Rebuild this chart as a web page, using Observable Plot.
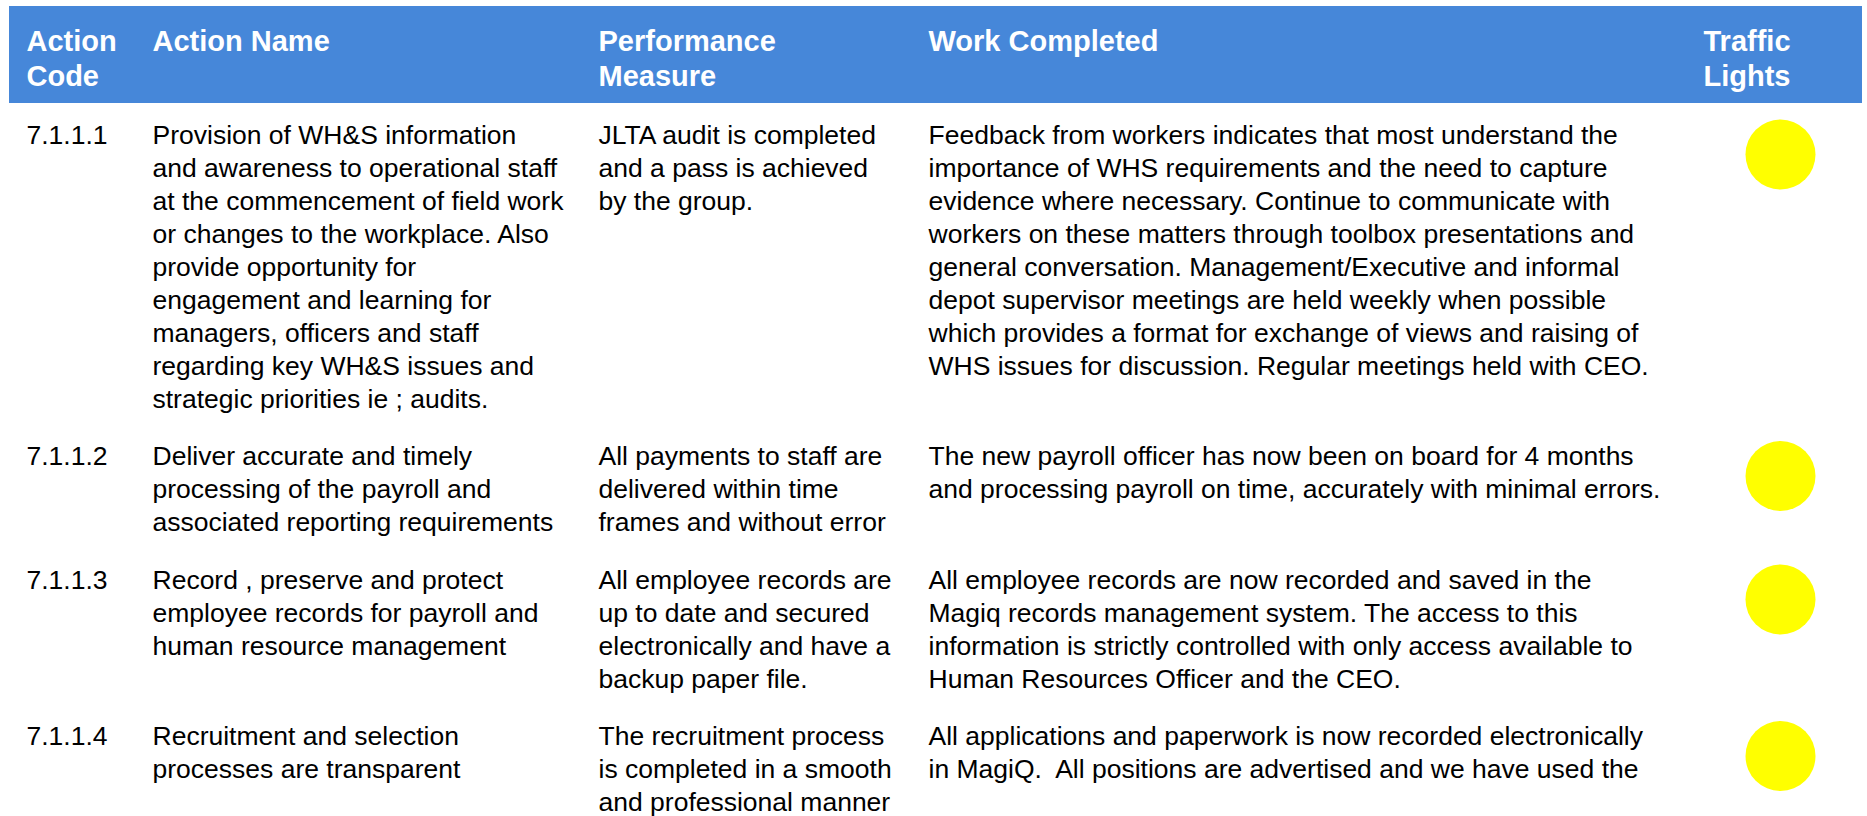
<!DOCTYPE html>
<html>
<head>
<meta charset="utf-8">
<script src="https://cdn.jsdelivr.net/npm/d3@7"></script>
<script src="https://cdn.jsdelivr.net/npm/@observablehq/plot@0.6"></script>
<style>
  html, body { margin: 0; padding: 0; background: #fff; overflow: hidden; }
  #chart svg { display: block; }
</style>
</head>
<body>
<div id="chart"></div>
<script>
// ---- Data ----
const headers = ["Action\nCode", "Action Name", "Performance\nMeasure", "Work Completed", "Traffic\nLights"];

const codes = ["7.1.1.1", "7.1.1.2", "7.1.1.3", "7.1.1.4"];

const actionNames = [
  "Provision of WH&S information\nand awareness to operational staff\nat the commencement of field work\nor changes to the workplace. Also\nprovide opportunity for\nengagement and learning for\nmanagers, officers and staff\nregarding key WH&S issues and\nstrategic priorities ie ; audits.",
  "Deliver accurate and timely\nprocessing of the payroll and\nassociated reporting requirements",
  "Record , preserve and protect\nemployee records for payroll and\nhuman resource management",
  "Recruitment and selection\nprocesses are transparent"
];

const measures = [
  "JLTA audit is completed\nand a pass is achieved\nby the group.",
  "All payments to staff are\ndelivered within time\nframes and without error",
  "All employee records are\nup to date and secured\nelectronically and have a\nbackup paper file.",
  "The recruitment process\nis completed in a smooth\nand professional manner"
];

const workCompleted = [
  "Feedback from workers indicates that most understand the\nimportance of WHS requirements and the need to capture\nevidence where necessary. Continue to communicate with\nworkers on these matters through toolbox presentations and\ngeneral conversation. Management/Executive and informal\ndepot supervisor meetings are held weekly when possible\nwhich provides a format for exchange of views and raising of\nWHS issues for discussion. Regular meetings held with CEO.",
  "The new payroll officer has now been on board for 4 months\nand processing payroll on time, accurately with minimal errors.",
  "All employee records are now recorded and saved in the\nMagiq records management system. The access to this\ninformation is strictly controlled with only access available to\nHuman Resources Officer and the CEO.",
  "All applications and paperwork is now recorded electronically\nin MagiQ.\u00a0 All positions are advertised and we have used the"
];

const lights = ["yellow", "yellow", "yellow", "yellow"];

// ---- Layout (positions / styles) ----
const W = 1867, H = 816;
const colX = [26, 152, 598, 928, 1703];
const lightX = 1780;
const band = {x1: 9, x2: 1862, y1: 6, y2: 103};
const headBase = 50, headLH = 35;
const bodyStart = 143, bodyLH = 33, rowGap = 57.5;
const dotOffset = 11, dotR = 35;
const lightColors = {yellow: "#FFFF00", green: "#00B050", red: "#FF0000"};
const FONT = "'Liberation Sans', Arial, Helvetica, sans-serif";

// header lines
const headLines = [];
headers.forEach((h, c) => h.split("\n").forEach((t, i) => headLines.push({x: colX[c], y: headBase + i * headLH, text: t})));

// body lines
const columns = [codes, actionNames, measures, workCompleted];
const bodyLines = [];
const dots = [];
let y0 = bodyStart;
codes.forEach((_, r) => {
  let maxLines = 1;
  columns.forEach((col, c) => {
    const ls = col[r].split("\n");
    maxLines = Math.max(maxLines, ls.length);
    ls.forEach((t, i) => bodyLines.push({x: colX[c], y: y0 + i * bodyLH, text: t}));
  });
  dots.push({x: lightX, y: y0 + dotOffset, status: lights[r]});
  y0 += (maxLines - 1) * bodyLH + rowGap;
});

const plot = Plot.plot({
  width: W,
  height: H,
  margin: 0,
  style: {background: "#fff"},
  x: {type: "identity", axis: null},
  y: {type: "identity", axis: null},
  marks: [
    Plot.rect([band], {x1: "x1", x2: "x2", y1: "y1", y2: "y2", fill: "#4687d9"}),
    Plot.text(headLines, {x: "x", y: "y", text: "text", textAnchor: "start", lineAnchor: "bottom",
      fill: "#fff", fontSize: 29, fontWeight: "bold", fontFamily: FONT}),
    Plot.text(bodyLines, {x: "x", y: "y", text: "text", textAnchor: "start", lineAnchor: "bottom",
      fill: "#000", fontSize: 26.5, fontFamily: FONT}),
    Plot.dot(dots, {x: "x", y: "y", r: dotR, fill: d => lightColors[d.status], stroke: "none"})
  ]
});
document.getElementById("chart").appendChild(plot);
</script>
</body>
</html>
